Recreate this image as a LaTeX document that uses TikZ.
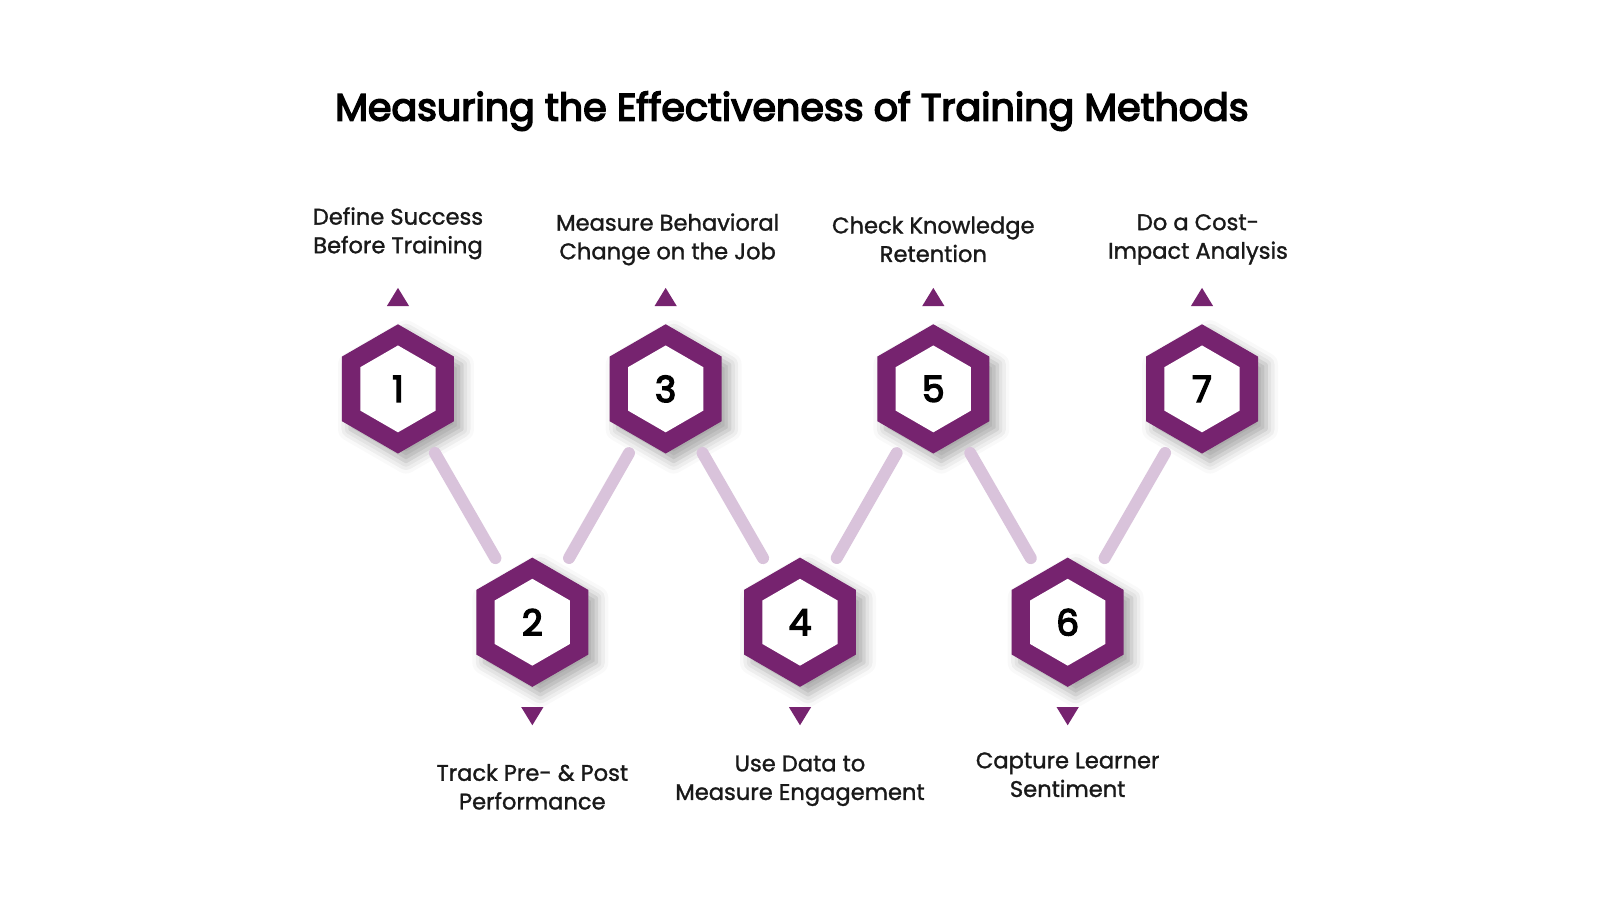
\documentclass[tikz,border=0pt]{standalone}
\usepackage{fontspec}
\setmainfont{Poppins}
\newfontfamily\medfont[FakeBold=1.3]{Poppins}
\newfontfamily\semifont[FakeBold=4]{Poppins}
\usetikzlibrary{shadows.blur}
\definecolor{hexp}{HTML}{76236F}
\definecolor{linep}{HTML}{D9C3DB}
\tikzset{
  lbl/.style={align=center,font=\medfont\fontsize{11.3}{14.3}\selectfont,text=black!90},
  num/.style={font=\semifont\fontsize{18}{18}\selectfont},
  conn/.style={line width=6pt,linep,line cap=round,shorten >=37pt,shorten <=37pt},
  tri/.style={fill=hexp},
}
\begin{document}
\begin{tikzpicture}[x=0.505pt,y=-0.505pt]
\useasboundingbox (0,0) rectangle (1584,891);
\node[font=\semifont\fontsize{19}{19}\selectfont] (title) at (784,110) {Measuring the Effectiveness of Training Methods};
\foreach \i/\x/\y in {1/394/385,2/527/616,3/659/385,4/792/616,5/924/385,6/1057/616,7/1190/385}{
  \fill[hexp,blur shadow={shadow xshift=4pt,shadow yshift=-4pt,shadow blur radius=6pt,shadow opacity=35}]
    (\x,\y) ++(90:64) -- ++(-30:64) -- ++(-90:64) -- ++(-150:64) -- ++(150:64) -- ++(90:64) -- cycle;
  \fill[white] (\x,\y) ++(90:43) -- ++(-30:43) -- ++(-90:43) -- ++(-150:43) -- ++(150:43) -- ++(90:43) -- cycle;
  \node[num] (h\i) at (\x,\y) {\i};
}
\foreach \a/\b in {1/2,2/3,3/4,4/5,5/6,6/7}{\draw[conn] (h\a.center) -- (h\b.center);}
\foreach \i in {1,3,5,7}{\fill[tri] ($(h\i.center)+(-11,-82)$) -- ($(h\i.center)+(11,-82)$) -- ($(h\i.center)+(0,-100)$) -- cycle;}
\foreach \i in {2,4,6}{\fill[tri] ($(h\i.center)+(-11,84)$) -- ($(h\i.center)+(11,84)$) -- ($(h\i.center)+(0,102)$) -- cycle;}
\node[lbl] (t1) at (394,231) {Define Success\\Before Training};
\node[lbl] (t3) at (661,237) {Measure Behavioral\\Change on the Job};
\node[lbl] (t5) at (924,237) {Check Knowledge\\Retention};
\node[lbl] (t7) at (1186,237) {Do a Cost-\\Impact Analysis};
\node[lbl] (t2) at (527,779) {Track Pre- \& Post\\Performance};
\node[lbl] (t4) at (792,773) {Use Data to\\Measure Engagement};
\node[lbl] (t6) at (1057,767) {Capture Learner\\Sentiment};
\end{tikzpicture}
\end{document}
